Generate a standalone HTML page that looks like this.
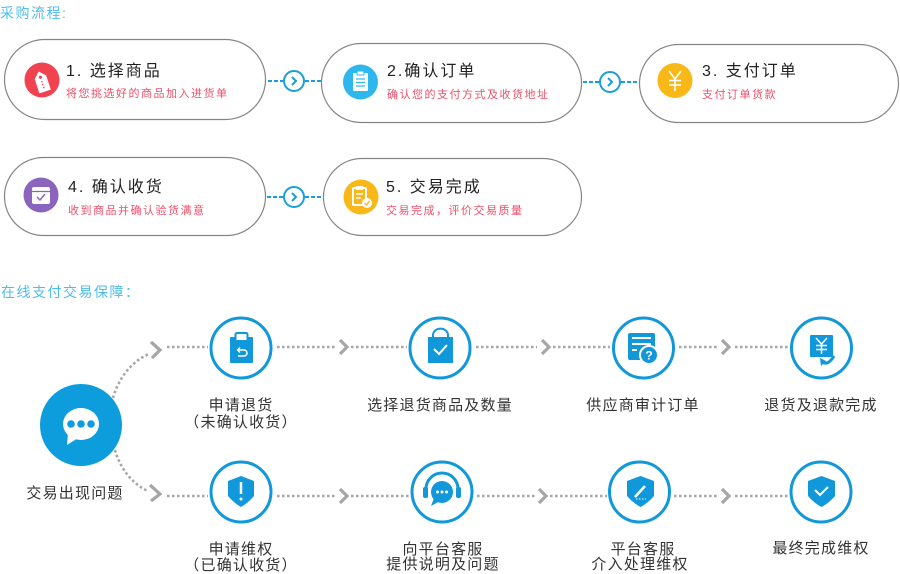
<!DOCTYPE html>
<html><head><meta charset="utf-8">
<style>
html,body{margin:0;padding:0;background:#fff;}
svg{display:block;}
text{font-family:"Liberation Sans","Noto Sans CJK SC",sans-serif;}
.hd{font-size:14px;fill:#4dbde9;letter-spacing:1.5px;}
.tt{font-size:16px;fill:#222;letter-spacing:2px;}
.st{font-size:11px;fill:#ef4f68;letter-spacing:1.5px;}
.lb{font-size:15px;fill:#333;letter-spacing:1.2px;}
.pill{fill:#fff;stroke:#858585;stroke-width:1.2;}
.dash{stroke:#1a9fdc;stroke-width:2;stroke-dasharray:4 2;fill:none;}
.dot{stroke:#a8a8a8;stroke-width:2.6;stroke-dasharray:2.6 2.4;fill:none;}
.chev{stroke:#a6a6a6;stroke-width:3.2;fill:none;stroke-linejoin:miter;}
.ring{fill:#fff;stroke:#1198da;stroke-width:3;}
.blue{fill:#1198da;}
</style></head>
<body>
<svg width="900" height="574" viewBox="0 0 900 574" xmlns="http://www.w3.org/2000/svg">
<!-- headers -->
<text class="hd" x="0" y="18">采购流程:</text>
<text class="hd" x="1" y="297" style="letter-spacing:1.5px">在线支付交易保障：</text>

<!-- pills -->
<rect class="pill" x="4.5" y="39.5" width="261" height="80" rx="40"/>
<rect class="pill" x="321.5" y="43.5" width="260" height="79" rx="39.5"/>
<rect class="pill" x="639.5" y="44.5" width="259" height="78" rx="39"/>
<rect class="pill" x="4.5" y="157.5" width="261" height="78" rx="39"/>
<rect class="pill" x="323.5" y="158.5" width="258" height="77" rx="38.5"/>

<!-- pill arrows -->
<line class="dash" x1="268" y1="81" x2="283" y2="81"/>
<line class="dash" x1="305" y1="81" x2="321" y2="81"/>
<circle cx="294" cy="81" r="10" fill="#fff" stroke="#1a9fdc" stroke-width="2"/>
<polyline points="292,77 296,81 292,85" fill="none" stroke="#1a9fdc" stroke-width="2"/>

<line class="dash" x1="583" y1="82" x2="599" y2="82"/>
<line class="dash" x1="621" y1="82" x2="638" y2="82"/>
<circle cx="610" cy="82" r="10" fill="#fff" stroke="#1a9fdc" stroke-width="2"/>
<polyline points="608,78 612,82 608,86" fill="none" stroke="#1a9fdc" stroke-width="2"/>

<line class="dash" x1="267" y1="197" x2="283" y2="197"/>
<line class="dash" x1="305" y1="197" x2="323" y2="197"/>
<circle cx="294" cy="197" r="10" fill="#fff" stroke="#1a9fdc" stroke-width="2"/>
<polyline points="292,193 296,197 292,201" fill="none" stroke="#1a9fdc" stroke-width="2"/>

<!-- pill 1 icon: tag -->
<circle cx="42" cy="80" r="17.5" fill="#f0424f"/>
<g transform="rotate(-18 42 82)">
<path d="M36,77 L42,71 L48,77 L48,92 L36,92 Z" fill="#fff"/>
<circle cx="42" cy="77" r="1.6" fill="#f0424f"/>
<line x1="42" y1="81" x2="42" y2="89" stroke="#f0424f" stroke-width="1.3" stroke-dasharray="1.5 1.5"/>
</g>
<text class="tt" x="66" y="76">1. 选择商品</text>
<text class="st" x="66" y="97">将您挑选好的商品加入进货单</text>

<!-- pill 2 icon: clipboard -->
<circle cx="360.5" cy="82" r="17.5" fill="#2db7ec"/>
<rect x="353" y="73" width="15" height="18" rx="1" fill="#fff"/>
<rect x="357" y="71" width="7" height="4" rx="1" fill="#fff" stroke="#2db7ec" stroke-width="1"/>
<g stroke="#2db7ec" stroke-width="1.2">
<line x1="356" y1="79" x2="365" y2="79"/><line x1="356" y1="82.5" x2="365" y2="82.5"/><line x1="356" y1="86" x2="365" y2="86"/>
</g>
<text class="tt" x="387" y="76">2.确认订单</text>
<text class="st" x="387" y="98">确认您的支付方式及收货地址</text>

<!-- pill 3 icon: yen -->
<circle cx="675" cy="80.5" r="17.5" fill="#f8b817"/>
<g stroke="#fff" stroke-width="1.6" fill="none">
<polyline points="669,71 675,79 681,71"/>
<line x1="675" y1="79" x2="675" y2="91"/>
<line x1="669" y1="80.5" x2="681" y2="80.5"/>
<line x1="669" y1="85" x2="681" y2="85"/>
</g>
<text class="tt" x="702" y="76">3. 支付订单</text>
<text class="st" x="702" y="98">支付订单货款</text>

<!-- pill 4 icon: box -->
<circle cx="41" cy="195" r="17.5" fill="#8a64bd"/>
<rect x="32" y="187" width="18" height="17" rx="2" fill="#fff"/>
<line x1="32" y1="191.5" x2="50" y2="191.5" stroke="#8a64bd" stroke-width="1.2"/>
<polyline points="37,197 40,200 45,194" fill="none" stroke="#8a64bd" stroke-width="1.4"/>
<text class="tt" x="68" y="192">4. 确认收货</text>
<text class="st" x="68" y="214">收到商品并确认验货满意</text>

<!-- pill 5 icon -->
<circle cx="361" cy="197" r="17.5" fill="#f8b817"/>
<rect x="353" y="188" width="13" height="17" rx="1" fill="none" stroke="#fff" stroke-width="2"/>
<rect x="356" y="186" width="7" height="4" fill="#fff"/>
<g stroke="#fff" stroke-width="1.5"><line x1="356" y1="194" x2="363" y2="194"/><line x1="356" y1="198" x2="361" y2="198"/></g>
<circle cx="367" cy="203" r="5" fill="#fff"/>
<polyline points="364.5,203 366.5,205 369.5,201" fill="none" stroke="#f8b817" stroke-width="1.4"/>
<text class="tt" x="386" y="192">5. 交易完成</text>
<text class="st" x="386" y="214">交易完成，评价交易质量</text>

<!-- section 2: curves -->
<path class="dot" d="M113,398 C118,380 130,362 149,354"/>
<polyline class="chev" points="151,342 160,350 152,358"/>
<path class="dot" d="M115,450 C120,468 132,484 148,491"/>
<polyline class="chev" points="150,485 160,494 151,501"/>

<!-- row 1 dotted lines -->
<line class="dot" x1="167" y1="347" x2="208" y2="347"/>
<line class="dot" x1="277" y1="347" x2="337" y2="347"/>
<polyline class="chev" points="340,340 347,347 340,354"/>
<line class="dot" x1="351" y1="347" x2="407" y2="347"/>
<line class="dot" x1="476" y1="347" x2="537" y2="347"/>
<polyline class="chev" points="542,340 549,347 542,354"/>
<line class="dot" x1="553" y1="347" x2="610" y2="347"/>
<line class="dot" x1="679" y1="347" x2="718" y2="347"/>
<polyline class="chev" points="722,340 729,347 722,354"/>
<line class="dot" x1="735" y1="347" x2="788" y2="347"/>

<!-- row 2 dotted lines -->
<line class="dot" x1="167" y1="496" x2="208" y2="496"/>
<line class="dot" x1="277" y1="496" x2="337" y2="496"/>
<polyline class="chev" points="340,489 347,496 340,503"/>
<line class="dot" x1="351" y1="496" x2="409" y2="496"/>
<line class="dot" x1="477" y1="496" x2="536" y2="496"/>
<polyline class="chev" points="539,489 546,496 539,503"/>
<line class="dot" x1="550" y1="496" x2="607" y2="496"/>
<line class="dot" x1="674" y1="496" x2="718" y2="496"/>
<polyline class="chev" points="722,489 729,496 722,503"/>
<line class="dot" x1="735" y1="496" x2="788" y2="496"/>

<!-- big circle -->
<circle cx="81" cy="425" r="41" fill="#0e9ddc"/>
<ellipse cx="81" cy="424" rx="18" ry="16" fill="#fff"/>
<path d="M68,433 L67,445 L78,438 Z" fill="#fff"/>
<circle cx="71" cy="424" r="3.8" fill="#0e9ddc"/>
<circle cx="81" cy="424" r="3.8" fill="#0e9ddc"/>
<circle cx="91" cy="424" r="3.8" fill="#0e9ddc"/>
<text class="lb" x="75" y="498" text-anchor="middle">交易出现问题</text>

<!-- row 1 circles -->
<circle class="ring" cx="241" cy="348" r="30"/>
<rect class="blue" x="230" y="337" width="23" height="26" rx="1"/>
<rect x="235.5" y="333" width="12" height="8" rx="1.5" fill="#fff" stroke="#1198da" stroke-width="2"/>
<path d="M238,350 L244,350 A3,3 0 0 1 244,356 L238,356" fill="none" stroke="#fff" stroke-width="1.5"/>
<polyline points="240,347.5 237.5,350 240,352.5" fill="none" stroke="#fff" stroke-width="1.3"/>
<text class="lb" x="241" y="410" text-anchor="middle">申请退货</text>
<text class="lb" x="241" y="427" text-anchor="middle">（未确认收货）</text>

<circle class="ring" cx="440" cy="348" r="30"/>
<rect class="blue" x="428" y="337" width="25" height="26"/>
<path d="M433,339 L433,335 A7,6 0 0 1 448,335 L448,339" fill="none" stroke="#1198da" stroke-width="2"/>
<polyline points="434,349 439,354 447,345" fill="none" stroke="#fff" stroke-width="2"/>
<text class="lb" x="440" y="410" text-anchor="middle">选择退货商品及数量</text>

<circle class="ring" cx="643.5" cy="348" r="30"/>
<rect class="blue" x="628" y="333" width="27" height="27" rx="2"/>
<g stroke="#fff" stroke-width="2"><line x1="632" y1="338" x2="651" y2="338"/><line x1="632" y1="344" x2="651" y2="344"/><line x1="632" y1="350" x2="637" y2="350"/></g>
<circle cx="649" cy="355" r="9" class="blue" stroke="#fff" stroke-width="2"/>
<text x="649" y="359.5" text-anchor="middle" style="font-size:12px;fill:#fff;font-weight:bold">?</text>
<text class="lb" x="643" y="410" text-anchor="middle">供应商审计订单</text>

<circle class="ring" cx="821.5" cy="348" r="30"/>
<rect class="blue" x="810" y="335" width="23" height="22" rx="1"/>
<g stroke="#fff" stroke-width="1.5" fill="none">
<polyline points="816,338 821.5,344 827,338"/>
<line x1="821.5" y1="344" x2="821.5" y2="354"/>
<line x1="816" y1="345.5" x2="827" y2="345.5"/>
<line x1="816" y1="349.5" x2="827" y2="349.5"/>
</g>
<path d="M822,362 Q828,366 834,356" fill="none" stroke="#1198da" stroke-width="3"/>
<polygon points="820,358 826,361 821,366" class="blue"/>
<text class="lb" x="821" y="410" text-anchor="middle">退货及退款完成</text>

<!-- row 2 circles -->
<circle class="ring" cx="241" cy="492" r="30"/>
<path d="M228,481 L241,476 L254,481 L254,496 Q248,503 241,507 Q234,503 228,496 Z" class="blue"/>
<line x1="241" y1="482" x2="241" y2="494" stroke="#fff" stroke-width="2.5"/>
<circle cx="241" cy="499" r="1.5" fill="#fff"/>
<text class="lb" x="241" y="554" text-anchor="middle">申请维权</text>
<text class="lb" x="241" y="570" text-anchor="middle">（已确认收货）</text>

<circle class="ring" cx="442" cy="492" r="30"/>
<path d="M426,494 L426,489 A16,16 0 0 1 458,489 L458,494" fill="none" stroke="#1198da" stroke-width="3"/>
<rect class="blue" x="423" y="487" width="5" height="11" rx="2"/>
<rect class="blue" x="456" y="487" width="5" height="11" rx="2"/>
<circle cx="442" cy="492" r="11" class="blue"/>
<path d="M434,498 L431,506 L440,501 Z" class="blue"/>
<circle cx="437.5" cy="492" r="1.5" fill="#fff"/><circle cx="442" cy="492" r="1.5" fill="#fff"/><circle cx="446.5" cy="492" r="1.5" fill="#fff"/>
<text class="lb" x="443" y="554" text-anchor="middle">向平台客服</text>
<text class="lb" x="443" y="569" text-anchor="middle">提供说明及问题</text>

<circle class="ring" cx="639.5" cy="492" r="30"/>
<path d="M627,481 L640.5,476 L654,481 L654,496 Q648,503 640.5,507 Q633,503 627,496 Z" class="blue"/>
<line x1="635" y1="497" x2="645" y2="486" stroke="#fff" stroke-width="2.5"/>
<line x1="636" y1="499" x2="646" y2="499" stroke="#fff" stroke-width="1" stroke-dasharray="1.5 1.5"/>
<text class="lb" x="643" y="554" text-anchor="middle">平台客服</text>
<text class="lb" x="640" y="569" text-anchor="middle">介入处理维权</text>

<circle class="ring" cx="821" cy="492" r="30"/>
<path d="M808,481 L821.5,476 L835,481 L835,496 Q829,503 821.5,507 Q814,503 808,496 Z" class="blue"/>
<polyline points="815,490 820,495 828,487" fill="none" stroke="#fff" stroke-width="2"/>
<text class="lb" x="821" y="553" text-anchor="middle">最终完成维权</text>
</svg>
</body></html>
